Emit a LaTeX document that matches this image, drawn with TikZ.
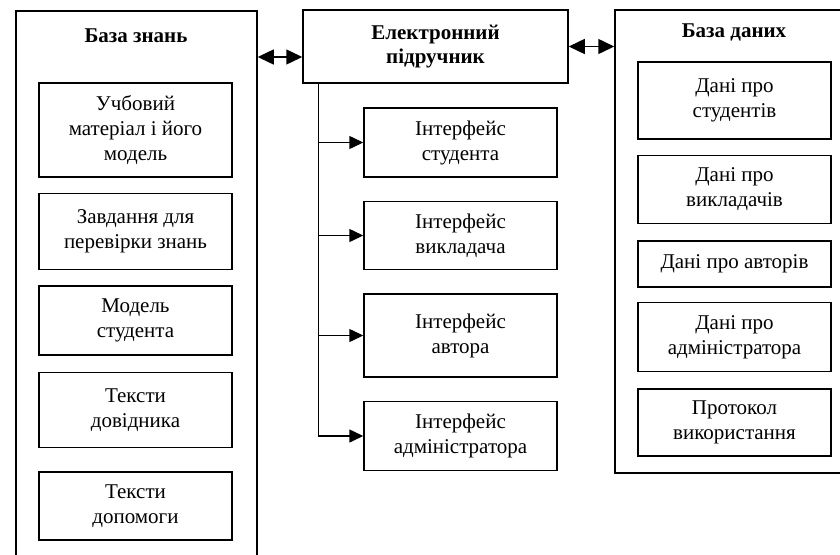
\documentclass[tikz,border=0pt]{standalone}
\usepackage{fontspec}
\setmainfont{Liberation Serif}
\usetikzlibrary{arrows.meta}
\usetikzlibrary{positioning}

\tikzset{
    block/.style={draw, line width=1.5pt, minimum width=193pt, inner sep=0pt,
                  align=center, font=\fontsize{21}{25}\selectfont},
    group/.style={draw, line width=1.5pt, inner sep=0pt},
    title/.style={align=center, font=\bfseries\fontsize{21}{24}\selectfont},
    link/.style={line width=1.5pt, {Triangle[length=16pt,width=15pt]}-{Triangle[length=16pt,width=15pt]}},
    feed/.style={line width=1.5pt, -{Triangle[length=14pt,width=13pt]}}
}

\begin{document}
\begin{tikzpicture}[x=1pt, y=-1pt]
        \useasboundingbox (0,0) rectangle (840,554);
        \clip (0,0) rectangle (840,554);

        \node[group, minimum width=241pt, minimum height=589pt] (kb) at (136.5,305.5) {};
        \node[group, minimum width=245pt, minimum height=463pt] (db) at (737.5,241.5) {};
        \node[group, minimum width=265pt, minimum height=73pt, title] (ep) at (435.5,46.5) {Електронний\\підручник};
        \node[title] (kbt) at (136,36) {База знань};
        \node[title] (dbt) at (734,32) {База даних};

        \node[block, minimum height=94pt]             (k1) at (135.5,130) {Учбовий\\матеріал і його\\модель};
        \node[block, minimum height=76pt, below=15pt of k1] (k2) {Завдання для\\перевірки знань};
        \node[block, minimum height=69pt, below=15pt of k2] (k3) {Модель\\студента};
        \node[block, minimum height=75pt, below=16pt of k3] (k4) {Тексти\\довідника};
        \node[block, minimum height=68pt, below=23pt of k4] (k5) {Тексти\\допомоги};

        \node[block, minimum height=69pt]             (i1) at (460.5,142.5) {Інтерфейс\\студента};
        \node[block, minimum height=68pt, below=23pt of i1] (i2) {Інтерфейс\\викладача};
        \node[block, minimum height=83pt, below=23pt of i2] (i3) {Інтерфейс\\автора};
        \node[block, minimum height=69pt, below=23pt of i3] (i4) {Інтерфейс\\адміністратора};

        \node[block, minimum height=77pt]             (d1) at (734.5,100.5) {Дані про\\студентів};
        \node[block, minimum height=68pt, below=15pt of d1] (d2) {Дані про\\викладачів};
        \node[block, minimum height=46pt, below=16pt of d2] (d3) {Дані про авторів};
        \node[block, minimum height=69pt, below=14pt of d3] (d4) {Дані про\\адміністратора};
        \node[block, minimum height=67pt, below=16pt of d4] (d5) {Протокол\\використання};

        \coordinate (t) at ([xshift=16pt]ep.south west);
        \coordinate (e) at ([yshift=-10.5pt]ep.west);

        \draw[link] (kb.east |- e) -- (e);
        \draw[link] (ep.east) -- (db.west |- ep.east);
        \draw[line width=1.5pt] (t) -- (t |- i4.west);
        \foreach \n in {i1,i2,i3,i4}
            \draw[feed] (t |- \n.west) -- (\n.west);
\end{tikzpicture}
\end{document}
